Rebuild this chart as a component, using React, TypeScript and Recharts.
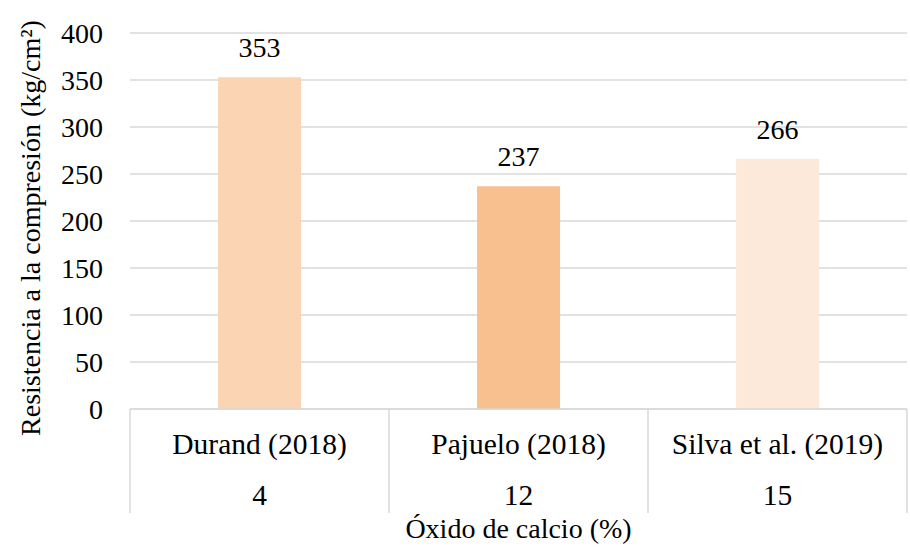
import React from 'react';
import { BarChart, Bar, XAxis, YAxis, CartesianGrid, Cell, LabelList } from 'recharts';

const authors = ['Durand (2018)', 'Pajuelo (2018)', 'Silva et al. (2019)'];
const calcium = ['4', '12', '15'];
const strength = [353, 237, 266];
const barColors = ['#FBD4B4', '#F9C08F', '#FDE9D9'];
const yTicks = [0, 50, 100, 150, 200, 250, 300, 350, 400];

const data = authors.map((a, i) => ({ author: a, calcio: calcium[i], value: strength[i] }));

const W = 910;
const H = 550;
const M = { top: 33, right: 3, bottom: 0, left: 10 };
const Y_W = 120;
const PLOT_W = W - M.left - M.right - Y_W;
const BAND = PLOT_W / authors.length;
const FONT = 'Liberation Serif';
const FS = 28;
const CAT_FS = 29.5;

// two-row category axis, Excel style, with separators between groups
const MultiTick = (props: any) => {
  const { x, y, payload, index } = props;
  const left = x - BAND / 2;
  const right = x + BAND / 2;
  return (
    <g>
      <line x1={left} y1={y} x2={left} y2={y + 104} stroke="#d9d9d9" strokeWidth={1.5} />
      {index === authors.length - 1 && (
        <line x1={right} y1={y} x2={right} y2={y + 104} stroke="#d9d9d9" strokeWidth={1.5} />
      )}
      <text x={x} y={y + 45} textAnchor="middle" style={{ fontSize: CAT_FS, fontFamily: FONT }} fill="#000">
        {payload.value}
      </text>
      <text x={x} y={y + 96} textAnchor="middle" style={{ fontSize: CAT_FS, fontFamily: FONT }} fill="#000">
        {calcium[index]}
      </text>
    </g>
  );
};

const YTitle = () => (
  <text
    x={0}
    y={0}
    transform={`translate(30, 228) rotate(-90)`}
    textAnchor="middle"
    dominantBaseline="central"
    style={{ fontSize: FS, fontFamily: FONT }}
    fill="#000"
  >
    Resistencia a la compresión (kg/cm²)
  </text>
);

export default function App() {
  return (
    <div
      style={{
        position: 'absolute',
        left: 0,
        top: 0,
        width: W,
        height: H,
        background: '#fff',
        fontFamily: FONT,
      }}
    >
      <BarChart width={W} height={H} data={data} margin={M} barCategoryGap="34%">
        <CartesianGrid vertical={false} stroke="#d9d9d9" strokeWidth={1.5} />
        <XAxis
          dataKey="author"
          height={141}
          interval={0}
          tickLine={false}
          tickSize={0}
          tickMargin={0}
          axisLine={{ stroke: '#d9d9d9', strokeWidth: 1.5 }}
          tick={<MultiTick />}
          label={{
            value: 'Óxido de calcio (%)',
            position: 'insideBottom',
            offset: 12,
            fontSize: FS,
            style: { fontFamily: FONT },
            fill: '#000',
          }}
        />
        <YAxis
          width={Y_W}
          domain={[0, 400]}
          ticks={yTicks}
          interval={0}
          tickLine={false}
          axisLine={false}
          tickSize={0}
          tickMargin={27}
          tick={{ fontSize: FS, style: { fontFamily: FONT }, fill: '#000' }}
          label={<YTitle />}
        />
        <Bar dataKey="value" isAnimationActive={false}>
          {data.map((d, i) => (
            <Cell key={d.author} fill={barColors[i]} />
          ))}
          <LabelList
            dataKey="value"
            position="top"
            offset={20}
            fontSize={FS}
            style={{ fontFamily: FONT }}
            fill="#000"
          />
        </Bar>
      </BarChart>
    </div>
  );
}
